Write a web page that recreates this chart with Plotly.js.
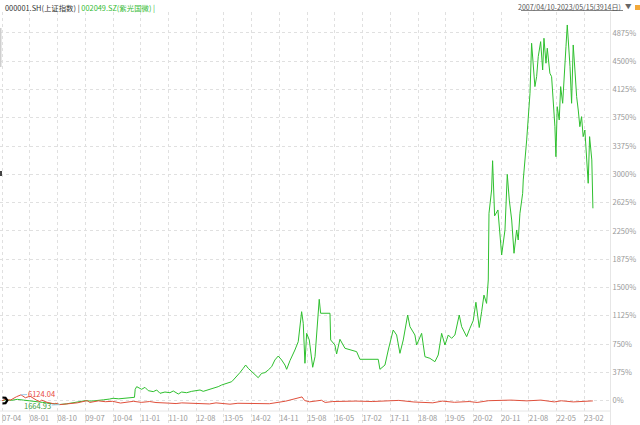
<!DOCTYPE html>
<html>
<head>
<meta charset="utf-8">
<script src="https://cdn.plot.ly/plotly-3.0.1.min.js"></script>
<style>
html,body{margin:0;padding:0;background:#fff;}
#chart{width:640px;height:425px;}
</style>
</head>
<body>
<div id="chart"></div>
<script>
// ---- data (percent change since 2007/04/10) ----
const greenName = '002049.SZ(紫光国微)';
const redName = '000001.SH(上证指数)';
const periodText = '2007/04/10-2023/05/15(3914日)';

const greenDates = ['2007-04-10','2007-05-20','2007-07-10','2007-09-10','2007-11-10','2008-01-10','2008-03-15','2008-05-15','2008-07-15','2008-09-15','2008-11-05','2009-01-10','2009-03-10','2009-05-10','2009-07-15','2009-09-15','2009-11-15','2010-01-15','2010-03-15','2010-04-19','2010-06-15','2010-08-15','2010-10-05','2010-11-18','2010-11-25','2010-12-10','2011-01-28','2011-03-02','2011-04-04','2011-05-24','2011-06-27','2011-07-30','2011-09-17','2011-11-06','2011-12-09','2012-01-28','2012-03-01','2012-04-20','2012-06-09','2012-07-29','2012-08-31','2012-10-02','2012-11-21','2013-01-10','2013-02-28','2013-04-03','2013-05-23','2013-07-12','2013-07-28','2013-08-30','2013-10-02','2013-11-04','2013-11-28','2013-12-24','2014-01-27','2014-03-01','2014-04-02','2014-05-06','2014-06-08','2014-07-11','2014-08-14','2014-09-15','2014-10-18','2014-11-21','2014-12-24','2015-01-10','2015-02-12','2015-04-02','2015-05-05','2015-06-08','2015-06-24','2015-07-11','2015-07-28','2015-08-23','2015-09-26','2015-10-19','2015-11-10','2015-11-30','2015-12-14','2016-03-16','2016-03-23','2016-05-04','2016-05-21','2016-06-23','2016-08-12','2016-10-01','2016-12-06','2017-01-08','2017-07-09','2017-07-26','2017-09-14','2017-10-17','2017-12-05','2018-01-08','2018-02-10','2018-03-15','2018-04-28','2018-05-21','2018-07-09','2018-07-26','2018-09-14','2018-10-17','2018-12-05','2019-01-24','2019-02-26','2019-04-01','2019-05-04','2019-06-06','2019-07-09','2019-08-11','2019-09-23','2019-10-17','2019-12-06','2020-01-07','2020-02-09','2020-03-07','2020-04-09','2020-05-03','2020-05-26','2020-06-21','2020-07-08','2020-07-15','2020-08-10','2020-08-20','2020-09-09','2020-10-12','2020-11-18','2020-12-21','2021-01-13','2021-02-02','2021-02-26','2021-03-21','2021-04-16','2021-05-02','2021-05-19','2021-06-15','2021-06-21','2021-07-25','2021-08-10','2021-08-27','2021-09-12','2021-09-29','2021-10-15','2021-11-01','2021-11-17','2021-12-11','2021-12-31','2022-01-13','2022-02-02','2022-02-15','2022-03-13','2022-03-30','2022-04-15','2022-05-02','2022-05-12','2022-05-25','2022-06-14','2022-06-28','2022-07-18','2022-07-31','2022-08-20','2022-09-02','2022-09-12','2022-09-29','2022-10-15','2022-10-31','2022-11-17','2022-12-04','2022-12-20','2023-01-05','2023-01-22','2023-02-07','2023-02-24','2023-03-13','2023-03-29','2023-04-12','2023-05-04','2023-05-15'];
const greenPct = [0,12,5,18,8,-5,-18,-22,-32,-40,-50,-42,-28,-15,0,-5,8,12,22,32,25,35,40,45,151,186,151,177,133,120,142,98,115,106,129,89,115,106,124,129,142,124,142,164,186,208,230,252,274,319,372,429,473,429,385,341,305,363,372,407,451,540,592,540,473,416,531,672,782,1180,1026,496,893,805,443,583,981,1344,1159,1159,805,738,619,814,695,672,650,549,549,416,473,672,937,871,628,805,1136,981,871,738,893,583,562,517,606,893,738,871,827,871,1136,981,849,959,1060,1305,970,1180,1400,1290,1600,2484,2793,3181,2450,2528,1931,2263,3000,2660,2395,1954,2263,2130,2484,2749,2926,3456,3721,4075,4738,4473,4163,4295,4560,4759,4384,4804,4473,4672,4340,4295,4030,3632,3234,3897,3721,4163,3942,4295,4693,4980,4782,4428,3942,4715,4384,4030,3853,3632,3765,3500,3588,3234,2882,3500,3191,2550];

const redDates = ['2007-04-10','2007-05-29','2007-06-05','2007-07-06','2007-08-31','2007-10-16','2007-11-28','2008-01-14','2008-03-18','2008-04-22','2008-05-06','2008-06-30','2008-09-18','2008-09-25','2008-11-04','2009-01-05','2009-02-17','2009-03-02','2009-04-30','2009-08-04','2009-08-31','2009-11-24','2010-02-01','2010-04-15','2010-07-02','2010-11-08','2011-01-25','2011-04-18','2011-06-20','2011-10-21','2012-01-06','2012-03-02','2012-09-25','2012-12-03','2013-02-06','2013-06-25','2013-09-12','2014-03-10','2014-07-22','2014-12-31','2015-04-27','2015-06-12','2015-07-08','2015-08-26','2015-12-22','2016-01-28','2016-04-13','2016-11-29','2017-05-10','2017-11-14','2018-01-29','2018-06-29','2018-10-18','2019-01-03','2019-04-08','2019-08-06','2019-12-31','2020-03-19','2020-07-09','2020-12-31','2021-02-18','2021-07-28','2021-12-13','2022-04-26','2022-07-05','2022-10-31','2023-01-30','2023-05-09','2023-05-15'];
const redPct = [0,26,9,10,52,78,39,60,7,-13,9,-21,-45,-33,-52,-45,-31,-39,-28,1,-23,-2,-13,-8,-31,-8,-22,-11,-24,-32,-38,-29,-42,-43,-29,-46,-34,-43,-40,-6,31,50,2,-15,6,-23,-11,-5,-11,0,4,-17,-28,-28,-5,-21,-11,-23,0,1,8,-2,8,-16,-1,-16,-5,-3,-4];

const redMaxLabel = '6124.04', redMaxDate = '2007-10-16', redMaxPct = 78;
const redMinLabel = '1664.93', redMinDate = '2008-11-04', redMinPct = -52;

const xTickDates = ['2007-04-10','2008-01-11','2008-10-14','2009-07-17','2010-04-19','2011-01-20','2011-10-22','2012-07-24','2013-04-26','2014-01-27','2014-10-30','2015-08-02','2016-05-04','2017-02-03','2017-11-06','2018-08-09','2019-05-12','2020-02-12','2020-11-14','2021-08-17','2022-05-19','2023-02-19'];
const xTickLabels = ['07-04','08-01','08-10','09-07','10-04','11-01','11-10','12-08','13-05','14-02','14-11','15-08','16-05','17-02','17-11','18-08','19-05','20-02','20-11','21-08','22-05','23-02'];
const yTickVals = [0,375,750,1125,1500,1875,2250,2625,3000,3375,3750,4125,4500,4875];

// ---- pixel helpers for decorations (plot area: x 0..610, y 12..425) ----
const PX = p => p / 610;
const PY = p => (425 - p) / 413;
const FONT = '"Noto Sans CJK SC", "Noto Sans", sans-serif';

const traces = [
  {x: greenDates, y: greenPct, type: 'scatter', mode: 'lines', name: greenName,
   line: {color: '#2fc02f', width: 1}, hoverinfo: 'skip'},
  {x: redDates, y: redPct, type: 'scatter', mode: 'lines', name: redName,
   line: {color: '#e0503c', width: 1}, hoverinfo: 'skip'}
];

const layout = {
  width: 640, height: 425,
  margin: {l: 0, r: 30, t: 12, b: 0},
  paper_bgcolor: '#fff', plot_bgcolor: '#fff',
  showlegend: false,
  font: {family: FONT, size: 8, color: '#999'},
  xaxis: {
    type: 'date', range: ['2007-03-21', '2023-11-01'],
    tickmode: 'array', tickvals: xTickDates, ticktext: xTickLabels,
    ticks: '', ticklabelposition: 'inside right', ticklabelstandoff: -3,
    tickfont: {family: FONT, size: 7.5, color: '#999'},
    showgrid: true, gridcolor: '#e0e0e0', griddash: 'dot', gridwidth: 1,
    zeroline: false, showline: false, fixedrange: true
  },
  yaxis: {
    side: 'right', range: [-322, 5152],
    tickmode: 'array', tickvals: yTickVals, ticktext: yTickVals.map(v => v + '%'),
    ticks: '', tickfont: {family: FONT, size: 7.5, color: '#999'},
    showgrid: true, gridcolor: '#e0e0e0', griddash: 'dot', gridwidth: 1,
    zeroline: false, showline: true, linecolor: '#e6e6e6', fixedrange: true
  },
  shapes: [
    {type: 'line', xref: 'paper', yref: 'paper', x0: 0, x1: 1, y0: PY(411), y1: PY(411), line: {color: '#e6e6e6', width: 1}},
    {type: 'line', xref: 'paper', yref: 'paper', x0: PX(521), x1: PX(623), y0: PY(10.5), y1: PY(10.5), line: {color: '#666', width: 0.8}},
    {type: 'rect', xref: 'paper', yref: 'paper', x0: PX(635), x1: PX(641), y0: PY(10), y1: PY(5), fillcolor: '#f2a93b', line: {width: 0}},
    {type: 'rect', xref: 'paper', yref: 'paper', x0: 0, x1: PX(1.5), y0: PY(67), y1: PY(28), fillcolor: '#cfcfcf', line: {width: 0}},
    {type: 'rect', xref: 'paper', yref: 'paper', x0: 0, x1: PX(2), y0: PY(176), y1: PY(171), fillcolor: '#444', line: {width: 0}},
    {type: 'path', xref: 'paper', yref: 'paper',
     path: `M ${PX(2.5)} ${PY(397.5)} L ${PX(5.5)} ${PY(397.8)} L ${PX(7.3)} ${PY(400.5)} L ${PX(5.5)} ${PY(403.2)} L ${PX(2.5)} ${PY(403.5)}`,
     line: {color: '#000', width: 2.2}}
  ],
  annotations: [
    {xref: 'paper', yref: 'paper', x: PX(3), y: PY(8), xanchor: 'left', yanchor: 'middle', showarrow: false,
     text: redName + ' | <span style="color:#33bb33">' + greenName + ' |</span>',
     font: {family: FONT, size: 7.4, color: '#333'}},
    {xref: 'paper', yref: 'paper', x: PX(623), y: PY(7), xanchor: 'right', yanchor: 'middle', showarrow: false,
     text: periodText, font: {family: FONT, size: 7, color: '#555'}},
    {xref: 'paper', yref: 'paper', x: PX(628.5), y: PY(6.5), xanchor: 'center', yanchor: 'middle', showarrow: false,
     text: '▼', font: {family: FONT, size: 6.5, color: '#666'}},
    {x: redMaxDate, y: redMaxPct, text: redMaxLabel, showarrow: true, arrowhead: 0, arrowwidth: 1,
     arrowcolor: '#9ccbe8', ax: 20, ay: -1, standoff: 0, borderpad: 0,
     font: {family: FONT, size: 7.5, color: '#e8483c'}},
    {x: redMinDate, y: redMinPct, text: redMinLabel, showarrow: true, arrowhead: 0, arrowwidth: 1,
     arrowcolor: '#9ccbe8', ax: -22, ay: 1, standoff: 0, borderpad: 0,
     font: {family: FONT, size: 7.5, color: '#3c9d3c'}}
  ]
};

Plotly.newPlot('chart', traces, layout, {staticPlot: true, displayModeBar: false});
</script>
</body>
</html>
